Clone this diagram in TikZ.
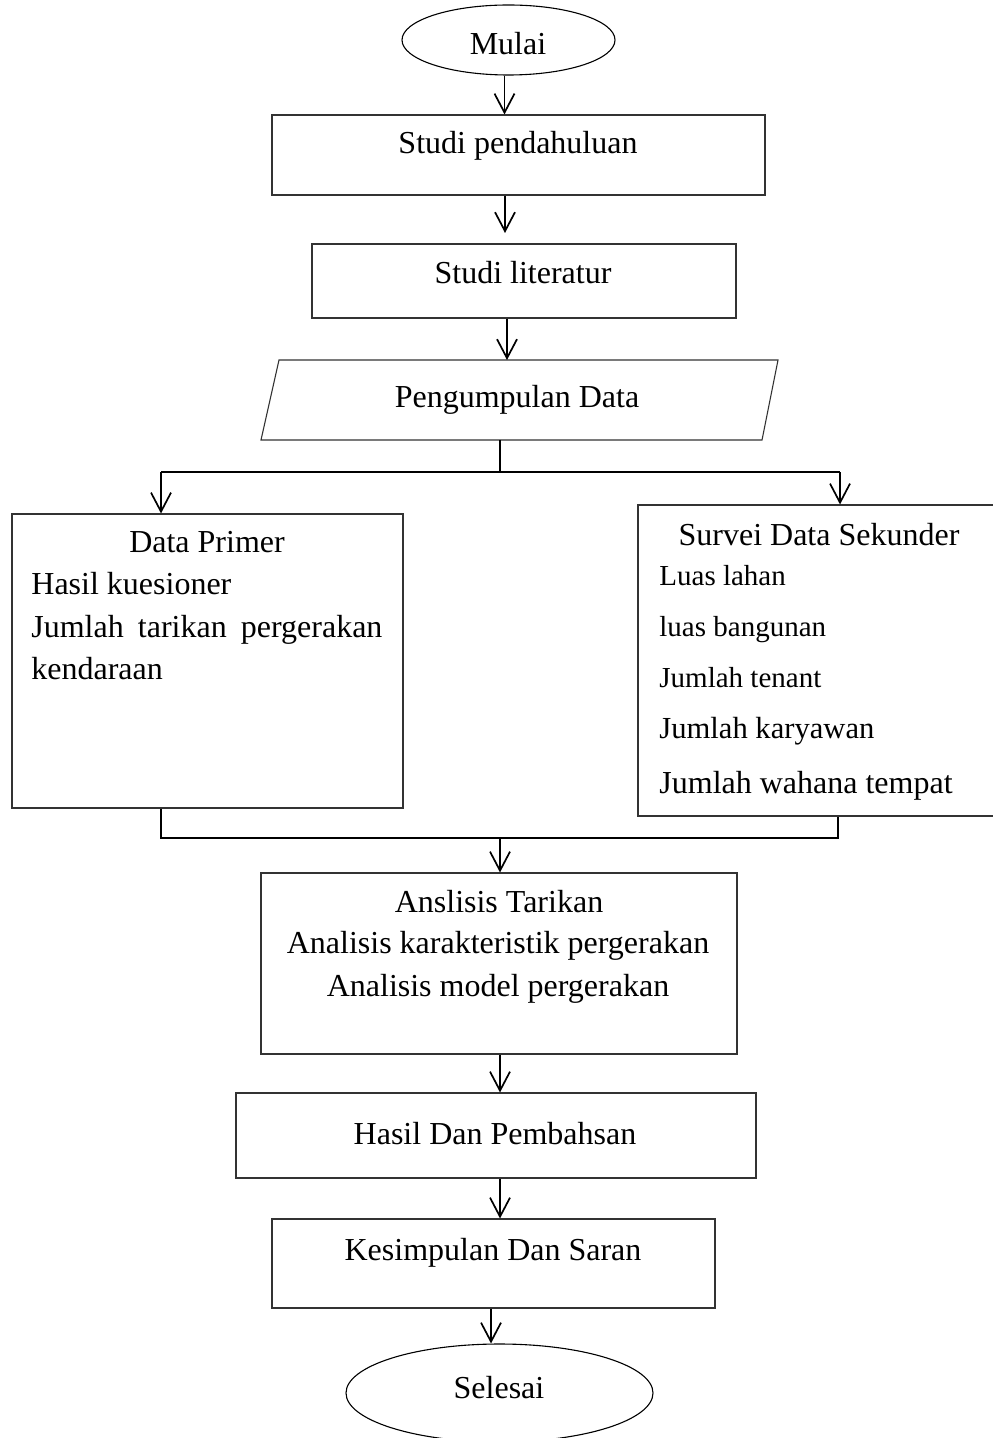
\documentclass[tikz,border=0pt]{standalone}
\usepackage{fontspec}
\setmainfont{Liberation Serif}
\usetikzlibrary{shapes.geometric,arrows.meta}
\begin{document}
\begin{tikzpicture}[x=0.5pt,y=-0.5pt,
  box/.style={draw=black!80,line width=0.55pt,inner sep=0pt,rectangle},
  oval/.style={draw=black,line width=0.55pt,inner sep=0pt,ellipse},
  shapeline/.style={draw=black!80,line width=0.55pt},
  txt/.style={inner sep=0pt,anchor=base,font=\fontsize{16}{19}\selectfont},
  ltxt/.style={inner sep=0pt,anchor=base west,font=\fontsize{16}{19}\selectfont},
  conn/.style={line width=0.85pt,-{Straight Barb[length=9.5pt,width=10pt,line width=0.85pt]}},
  joinline/.style={line width=0.85pt}]
\useasboundingbox (0,0) rectangle (992,1438);
% shapes
\node[oval,minimum width=106.5pt,minimum height=35pt] (mulai) at (508.5,40) {};
\node[box,minimum width=246.5pt,minimum height=40pt] (s1) at (518.5,155) {};
\node[box,minimum width=212pt,minimum height=37pt] (s2) at (524,281) {};
\coordinate (pdtl) at (279,360);
\coordinate (pdtr) at (778,360);
\coordinate (pdbr) at (762,440);
\coordinate (pdbl) at (261,440);
\draw[shapeline] (pdtl) -- (pdtr) -- (pdbr) -- (pdbl) -- cycle;
\node[box,minimum width=195.5pt,minimum height=147pt] (dp) at (207.5,661) {};
\node[box,minimum width=181pt,minimum height=155.5pt] (ds) at (819,660.5) {};
\node[box,minimum width=238pt,minimum height=90.5pt] (an) at (499,963.5) {};
\node[box,minimum width=260pt,minimum height=42.5pt] (hp) at (496,1135.5) {};
\node[box,minimum width=221.5pt,minimum height=44.5pt] (ks) at (493.5,1263.5) {};
\node[oval,minimum width=153.5pt,minimum height=49pt] (sel) at (499.5,1393) {};
% texts
\node[txt] (tmulai) at (508,55) {Mulai};
\node[txt] (ts1) at (518,154) {Studi pendahuluan};
\node[txt] (ts2) at (523,284) {Studi literatur};
\node[txt] (tpd) at (517,408) {Pengumpulan Data};
\node[txt] (tdp) at (207,552) {Data Primer};
\node[ltxt] (tdp1) at (31,594) {Hasil kuesioner};
\node[ltxt] (tdp2) at (31,637) {\makebox[175.5pt][s]{Jumlah tarikan pergerakan}};
\node[ltxt] (tdp3) at (31,679) {kendaraan};
\node[txt] (tds) at (819,545) {Survei Data Sekunder};
\node[ltxt,font=\fontsize{14.5}{17}\selectfont] (tds1) at (659,585) {Luas lahan};
\node[ltxt,font=\fontsize{14.5}{17}\selectfont] (tds2) at (659,636) {luas bangunan};
\node[ltxt,font=\fontsize{14.5}{17}\selectfont] (tds3) at (659,687) {Jumlah tenant};
\node[ltxt,font=\fontsize{15.3}{18}\selectfont] (tds4) at (659,738) {Jumlah karyawan};
\node[ltxt] (tds5) at (659,793) {Jumlah wahana tempat};
\node[txt] (tan1) at (499,912) {Anslisis Tarikan};
\node[txt] (tan2) at (498,953) {Analisis karakteristik pergerakan};
\node[txt] (tan3) at (498,996) {Analisis model pergerakan};
\node[txt] (thp) at (495,1144) {Hasil Dan Pembahsan};
\node[txt] (tks) at (493,1260) {Kesimpulan Dan Saran};
\node[txt] (tsel) at (499,1398) {Selesai};
% connectors
\draw[conn] ([xshift=-2pt]mulai.south) -- ([xshift=-2pt]mulai.south |- s1.north);
\coordinate (a2end) at (505,233);
\draw[conn] (s1.south -| a2end) -- (a2end);
\draw[conn] ([xshift=-8.5pt]s2.south) -- ([xshift=-8.5pt]s2.south |- pdtl);
\coordinate (pdb) at (500,440);
\coordinate (split) at (500,472);
\coordinate (jl) at (161,472);
\coordinate (jr) at (840,472);
\draw[joinline] (pdb) -- (split);
\draw[joinline] (jl) -- (jr);
\draw[conn] (jl) -- (jl |- dp.north);
\draw[conn] (jr) -- (jr |- ds.north);
\coordinate (ml) at (161,838);
\coordinate (mr) at (838,838);
\coordinate (mm) at (500,838);
\draw[joinline] (ml |- dp.south) -- (ml) -- (mr) -- (mr |- ds.south);
\draw[conn] (mm) -- (mm |- an.north);
\draw[conn] ([xshift=0.5pt]an.south) -- ([xshift=0.5pt]an.south |- hp.north);
\draw[conn] ([xshift=2pt]hp.south) -- ([xshift=2pt]hp.south |- ks.north);
\draw[conn] ([xshift=-1.25pt]ks.south) -- ([xshift=-1.25pt]ks.south |- sel.north);
\end{tikzpicture}
\end{document}
